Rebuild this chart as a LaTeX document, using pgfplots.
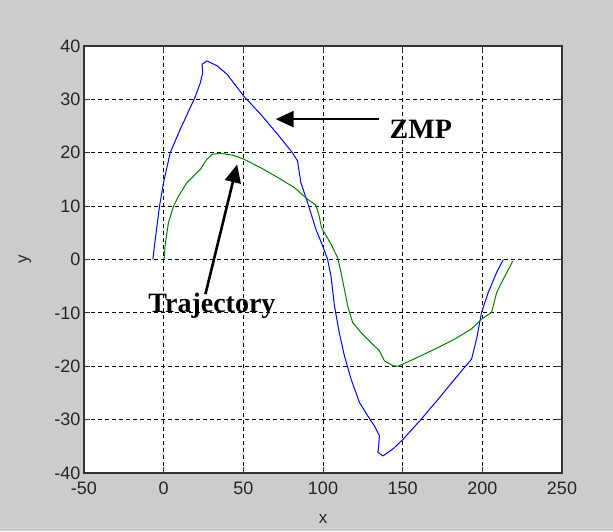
\documentclass[border=0pt]{standalone}
\usepackage{pgfplots}
\pgfplotsset{compat=1.18}
\usepackage{fontspec}
\setmainfont{Liberation Sans}
\newfontfamily\serifb{Liberation Serif}
\usetikzlibrary{arrows.meta}
\definecolor{figgray}{RGB}{204,204,204}
\definecolor{mgreen}{RGB}{0,128,0}
\begin{document}
\begin{tikzpicture}[x=1pt,y=1pt]
\fill[figgray] (0,0) rectangle (613,531);
\useasboundingbox (0,0) rectangle (613,531);
\begin{axis}[
  at={(84pt,58pt)}, anchor=south west,
  scale only axis, width=478pt, height=427pt,
  xmin=-50, xmax=250, ymin=-40, ymax=40,
  xtick={-50,0,...,250}, ytick={-40,-30,...,40},
  grid=major,
  grid style={black, dash pattern=on 4pt off 3pt, line width=0.9pt},
  axis line style={black!80, line width=1.2pt},
  tick style={black!80, line width=1pt},
  major tick length=6pt,
  tick align=inside,
  axis background/.style={fill=white},
  /pgf/number format/assume math mode=true,
  ticklabel style={font=\fontsize{18}{18}\selectfont, text=black!85},
  xticklabel style={yshift=-5pt},
  xlabel={x}, ylabel={y},
  label style={font=\fontsize{17}{17}\selectfont, text=black!85},
  xlabel style={at={(axis description cs:0.5,0)}, anchor=center, yshift=-46pt},
  ylabel style={at={(axis description cs:-0.1234,0.5)}, anchor=center},
  clip=false,
]
\addplot[blue, line width=1pt] coordinates {
(-6.8,0) (-5.4,3.5) (-2.6,10) (-0.1,14.4) (4.1,20) (10.4,24.4) (19.4,30.2)
(23,33.1) (24.5,35) (24.1,36.6) (27.2,37.2) (33.5,36.3) (39.8,34.7)
(50.3,30.6) (60.9,27.2) (71.4,23.5) (80.8,20.0) (84.0,18.5) (86.1,14.4)
(90.3,10.7) (95.5,5.7) (99.7,2.6) (102.9,0) (105,-3.1) (107.2,-8.7)
(110.2,-13.7) (113.4,-18) (117.6,-22.4) (122.9,-26.8) (128.1,-29.3)
(132.3,-31.2) (135.4,-33) (134.8,-35.5) (134.4,-36.1) (137.6,-36.8)
(143.9,-35.5) (150.2,-33.7) (161.7,-29.9) (172.2,-26.2) (182.7,-22.4)
(188,-20.5) (193.2,-18.7) (196.4,-14.9) (199.5,-9.9) (203.7,-6.2)
(209,-2.4) (213.2,0)
};
\addplot[mgreen, line width=1pt] coordinates {
(0.3,0) (0.9,2.6) (3,6.9) (6.2,10) (9.4,11.9) (14.6,14.4) (23,16.9)
(27.2,18.8) (30.4,19.7) (35.6,19.9) (44,19.5) (50.3,18.8) (60.9,17.2)
(71.4,15.4) (81.9,13.5) (90.3,11.3) (95.5,10.2) (97.6,8.2) (99,6)
(105,2.9) (109.2,0.3) (111.3,-2.4) (115.5,-8.7) (118.6,-11.8)
(123.9,-13.7) (130.2,-15.6) (135.4,-17.1) (138.6,-19) (143.9,-19.9)
(147,-20) (152.3,-19.3) (161.7,-18) (172.2,-16.5) (182.7,-14.9)
(193.2,-13) (199.5,-11.2) (205.8,-9.9) (209,-6.2) (212.1,-4.3) (219.1,-0.3)
};
\draw[black, line width=2.6pt, -{Triangle[length=18pt,width=16pt]}]
  (axis cs:135.2,26.3) -- (axis cs:70.3,26.3);
\draw[black, line width=2.6pt, -{Triangle[length=18pt,width=16pt]}]
  (axis cs:26.2,-6.5) -- (axis cs:46.1,17.8);
\node[font=\serifb\bfseries\fontsize{28}{28}\selectfont, text=black] at (axis cs:161.4,24.4) {ZMP};
\node[anchor=base, font=\serifb\bfseries\fontsize{28}{28}\selectfont, text=black] at (axis cs:30.3,-9.9) {Trajectory};
\end{axis}
\end{tikzpicture}
\end{document}
